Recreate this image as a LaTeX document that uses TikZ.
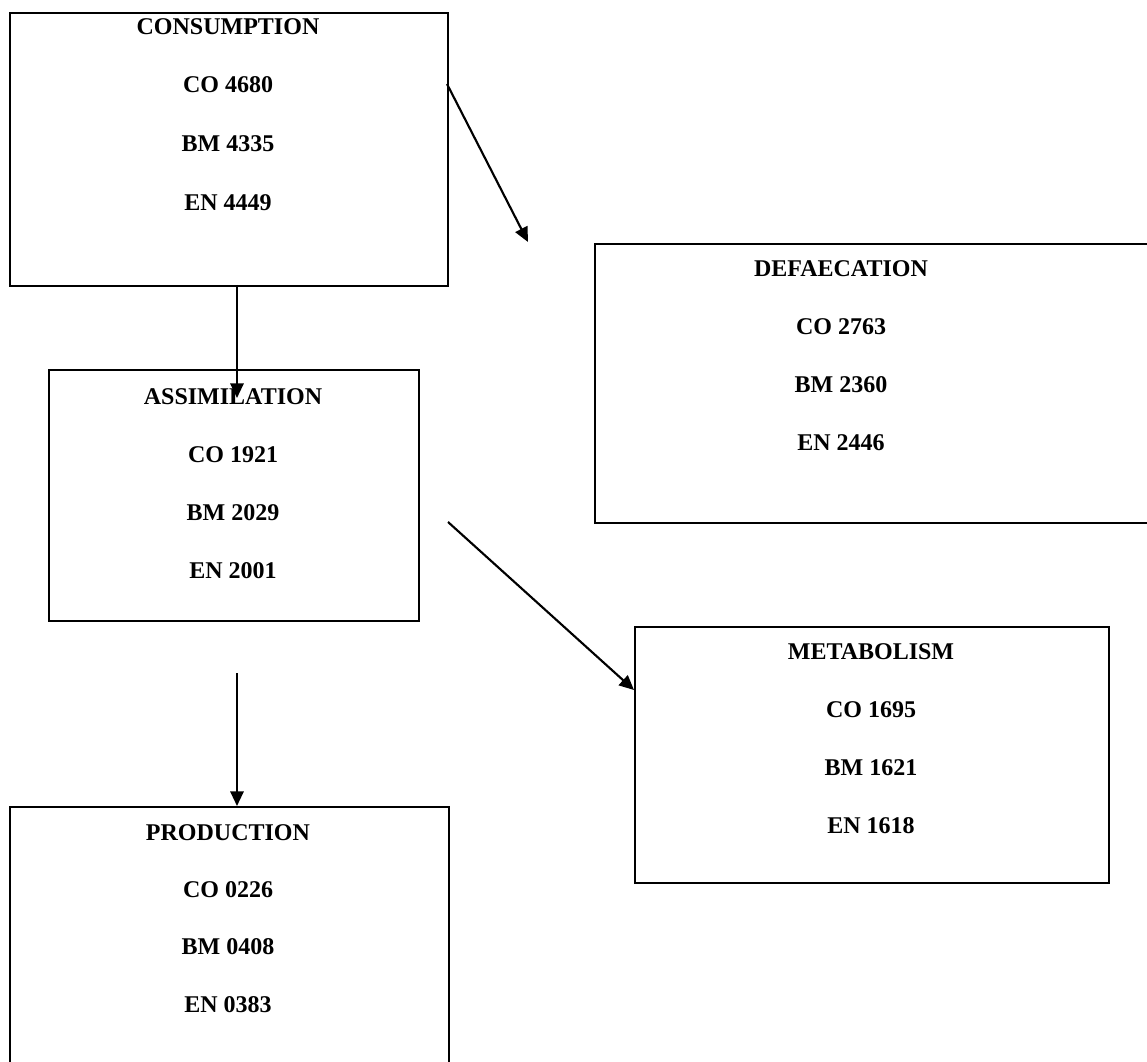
\documentclass[tikz,border=0pt]{standalone}
\usepackage{fontspec}
\setmainfont{Liberation Serif}
\usetikzlibrary{arrows.meta}
\begin{document}
\begin{tikzpicture}[x=0.75pt,y=-0.75pt,
  box/.style 2 args={draw=black,line width=1.5pt,fill=none,inner sep=0pt,anchor=north west,
    minimum width=#1*0.75pt,minimum height=#2*0.75pt},
  lbl/.style={font=\bfseries\fontsize{18pt}{20pt}\selectfont,inner sep=0pt,anchor=center},
  arr/.style={line width=1.6pt,-{Triangle[length=11pt,width=10pt]}}]
\useasboundingbox (0,0) rectangle (1147,1062);
% boxes
\node[box={438}{273}] (cons) at (9,12) {};
\node[box={560}{279}] (defa) at (594,243) {};
\node[box={370}{251}] (assi) at (48,369) {};
\node[box={474}{256}] (meta) at (634,626) {};
\node[box={439}{270}] (prod) at (9,806) {};
% texts
\node[lbl] (consT) at (228,27) {CONSUMPTION};
\node[lbl] (consC) at (228,85) {CO 4680};
\node[lbl] (consB) at (228,144) {BM 4335};
\node[lbl] (consE) at (228,203) {EN 4449};
\node[lbl] (defaT) at (841,269) {DEFAECATION};
\node[lbl] (defaC) at (841,327) {CO 2763};
\node[lbl] (defaB) at (841,385) {BM 2360};
\node[lbl] (defaE) at (841,443) {EN 2446};
\node[lbl] (assiT) at (233,397) {ASSIMILATION};
\node[lbl] (assiC) at (233,455) {CO 1921};
\node[lbl] (assiB) at (233,513) {BM 2029};
\node[lbl] (assiE) at (233,571) {EN 2001};
\node[lbl] (metaT) at (871,652) {METABOLISM};
\node[lbl] (metaC) at (871,710) {CO 1695};
\node[lbl] (metaB) at (871,768) {BM 1621};
\node[lbl] (metaE) at (871,826) {EN 1618};
\node[lbl] (prodT) at (228,833) {PRODUCTION};
\node[lbl] (prodC) at (228,890) {CO 0226};
\node[lbl] (prodB) at (228,947) {BM 0408};
\node[lbl] (prodE) at (228,1005) {EN 0383};
% connector ends
\coordinate (a1s) at (447,84);
\coordinate (a1e) at (528,242);
\coordinate (a2s) at (237,285);
\coordinate (a2e) at (237,398);
\coordinate (a3s) at (448,522);
\coordinate (a3e) at (634,690);
\coordinate (a4s) at (237,673);
\coordinate (a4e) at (237,806);
% connectors
\draw[arr] (a1s) -- (a1e);
\draw[arr] (a2s) -- (a2e);
\draw[arr] (a3s) -- (a3e);
\draw[arr] (a4s) -- (a4e);
\end{tikzpicture}
\end{document}
